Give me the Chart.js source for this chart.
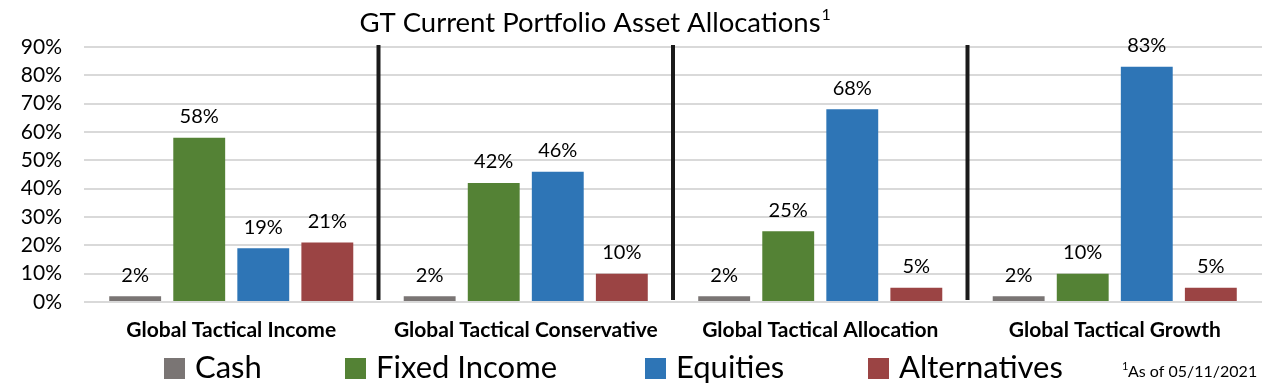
<!DOCTYPE html>
<html><head><meta charset="utf-8">
<script src="https://cdn.jsdelivr.net/npm/chart.js@4"></script>
<style>html,body{margin:0;padding:0;background:#fff}#wrap{width:1282px;height:391px;position:relative}</style>
</head><body><div id="wrap"><canvas id="c" width="1282" height="391"></canvas></div>
<script>
const categories = ["Global Tactical Income","Global Tactical Conservative","Global Tactical Allocation","Global Tactical Growth"];
const cash = [2,2,2,2];
const fixedIncome = [58,42,25,10];
const equities = [19,46,68,83];
const alternatives = [21,10,5,5];
const seriesNames = ["Cash","Fixed Income","Equities","Alternatives"];
const colors = ["#7a7574","#548235","#2e75b6","#9b4444"];
const titleText = "GT Current Portfolio Asset Allocations";
const footnote = "As of 05/11/2021";

const FONT = "Lato, 'Open Sans', sans-serif";

const extras = {
  id: 'extras',
  afterDatasetsDraw(chart) {
    const ctx = chart.ctx;
    ctx.save();
    ctx.fillStyle = '#000';
    ctx.font = '20px ' + FONT;
    ctx.textAlign = 'center';
    ctx.textBaseline = 'middle';
    chart.data.datasets.forEach((ds, di) => {
      chart.getDatasetMeta(di).data.forEach((bar, i) => {
        ctx.fillText(ds.data[i] + '%', bar.x, bar.y - 21);
      });
    });
    const xs = chart.scales.x, ys = chart.scales.y;
    ctx.strokeStyle = '#1a1a1a';
    ctx.lineWidth = 4;
    for (let i = 0; i < categories.length - 1; i++) {
      const x = (xs.getPixelForValue(i) + xs.getPixelForValue(i + 1)) / 2;
      ctx.beginPath();
      ctx.moveTo(x, ys.top - 2);
      ctx.lineTo(x, ys.bottom - 2);
      ctx.stroke();
    }
    ctx.restore();
  },
  afterDraw(chart) {
    const ctx = chart.ctx;
    ctx.save();
    ctx.fillStyle = '#000';
    ctx.font = '27.5px ' + FONT;
    ctx.textBaseline = 'middle';
    ctx.textAlign = 'left';
    const tw = ctx.measureText(titleText).width;
    const tx = 596 - (tw + 12) / 2;
    ctx.fillText(titleText, tx, 23);
    ctx.font = '16px ' + FONT;
    ctx.fillText('1', tx + tw + 1, 15);
    const legX = [164, 345, 645, 868];
    ctx.font = '31px ' + FONT;
    seriesNames.forEach((n, i) => {
      ctx.fillStyle = colors[i];
      ctx.fillRect(legX[i], 358, 21, 21);
      ctx.fillStyle = '#000';
      ctx.fillText(n, legX[i] + 31, 368);
    });
    ctx.font = '11px ' + FONT;
    ctx.fillText('1', 1122, 366);
    ctx.font = '16px ' + FONT;
    ctx.fillText(footnote, 1128, 372);
    ctx.restore();
  }
};

new Chart(document.getElementById('c'), {
  type: 'bar',
  data: {
    labels: categories,
    datasets: [
      { label: seriesNames[0], data: cash, backgroundColor: colors[0] },
      { label: seriesNames[1], data: fixedIncome, backgroundColor: colors[1] },
      { label: seriesNames[2], data: equities, backgroundColor: colors[2] },
      { label: seriesNames[3], data: alternatives, backgroundColor: colors[3] }
    ]
  },
  options: {
    responsive: false,
    animation: false,
    devicePixelRatio: 1,
    categoryPercentage: 0.87,
    barPercentage: 0.81,
    layout: { padding: { top: 47, right: 20, bottom: 45, left: 0 } },
    plugins: { legend: { display: false }, title: { display: false }, tooltip: { enabled: false } },
    scales: {
      x: {
        grid: { display: false, drawTicks: false },
        border: { display: false },
        ticks: { color: '#000', font: { family: FONT, size: 21, weight: 'bold' }, padding: 16, maxRotation: 0, autoSkip: false },
        afterFit(s) { s.height = 44; }
      },
      y: {
        min: 0, max: 90,
        grid: { color: '#d9d9d9', lineWidth: 2, drawTicks: false },
        border: { display: false },
        ticks: { stepSize: 10, color: '#000', font: { family: FONT, size: 21 }, padding: 22, callback: v => v + '%' },
        afterFit(s) { s.width = 84; }
      }
    }
  },
  plugins: [extras]
});
</script></body></html>
